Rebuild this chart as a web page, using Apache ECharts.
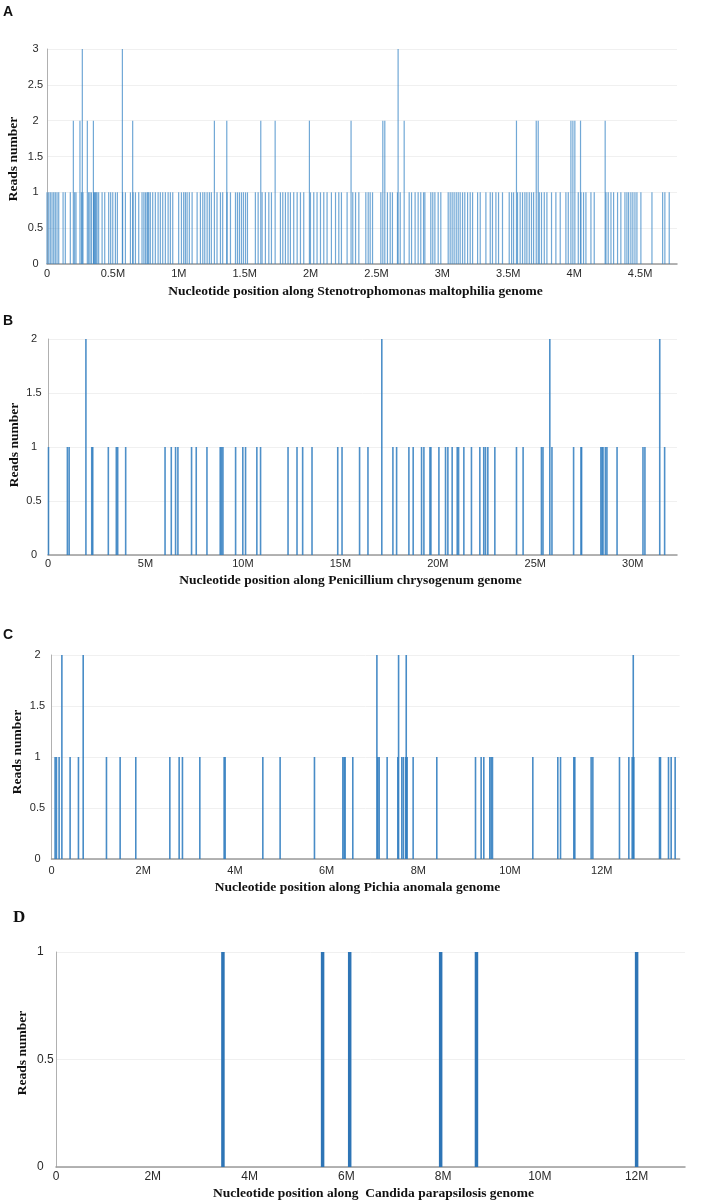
<!DOCTYPE html>
<html><head><meta charset="utf-8">
<script src="https://cdn.jsdelivr.net/npm/echarts/dist/echarts.min.js"></script>
<style>html,body{margin:0;padding:0;background:#fff}#c{width:724px;height:1202px}</style>
</head><body><div id="c"></div>
<script>
// Positions in Mb along each genome; reads per position
const posA1 = [0.010,0.023,0.035,0.048,0.061,0.073,0.086,0.099,0.132,0.149,0.187,0.220,0.230,0.271,0.283,0.326,0.336,0.347,0.364,0.370,0.377,0.383,0.390,0.402,0.428,0.448,0.478,0.493,0.509,0.529,0.544,0.584,0.605,0.643,0.663,0.681,0.706,0.731,0.745,0.757,0.769,0.775,0.782,0.794,0.812,0.832,0.853,0.870,0.888,0.908,0.929,0.946,0.964,1.009,1.030,1.047,1.060,1.073,1.090,1.111,1.149,1.174,1.192,1.207,1.225,1.242,1.257,1.300,1.326,1.343,1.376,1.402,1.440,1.455,1.470,1.485,1.500,1.516,1.531,1.591,1.612,1.642,1.667,1.693,1.713,1.781,1.799,1.819,1.839,1.857,1.882,1.908,1.933,1.958,2.009,2.034,2.059,2.085,2.110,2.135,2.168,2.199,2.224,2.244,2.287,2.330,2.351,2.376,2.429,2.447,2.462,2.480,2.543,2.593,2.614,2.631,2.669,2.690,2.758,2.776,2.803,2.826,2.846,2.867,2.877,2.922,2.937,2.953,2.978,2.998,3.054,3.069,3.084,3.099,3.115,3.130,3.145,3.163,3.180,3.201,3.221,3.239,3.277,3.297,3.340,3.373,3.390,3.416,3.436,3.466,3.517,3.535,3.550,3.580,3.600,3.618,3.636,3.651,3.669,3.686,3.702,3.745,3.762,3.783,3.803,3.838,3.871,3.904,3.947,3.965,4.041,4.061,4.081,4.099,4.137,4.162,4.251,4.268,4.289,4.309,4.339,4.364,4.395,4.410,4.423,4.440,4.455,4.471,4.486,4.516,4.600,4.681,4.698,4.731];
const posA2 = [0.200,0.250,0.306,0.352,0.650,1.270,1.364,1.622,1.731,1.991,2.307,2.548,2.563,2.710,3.562,3.712,3.727,3.975,3.990,4.005,4.048,4.235];
const posA3 = [0.258,0.562,2.654];

const posB1 = [0.07,1.04,1.13,2.29,2.34,3.14,3.55,3.62,4.03,6.05,6.37,6.59,6.71,7.41,7.65,8.20,8.88,8.95,9.02,9.67,10.04,10.18,10.76,10.95,12.36,12.82,13.11,13.59,14.91,15.13,16.03,16.46,17.74,17.93,18.56,18.78,19.21,19.33,19.64,19.69,20.10,20.44,20.56,20.78,21.04,21.11,21.38,21.77,22.20,22.40,22.49,22.61,22.97,24.08,24.42,25.36,25.44,25.90,27.01,27.39,27.42,28.41,28.47,28.52,28.64,28.72,29.24,30.57,30.67,31.68];
const posB2 = [1.90,17.08,25.70,31.34];

const posC1 = [0.098,0.127,0.185,0.425,0.607,1.218,1.516,1.857,2.600,2.803,2.875,3.254,3.784,3.806,4.628,5.005,5.754,6.373,6.401,6.423,6.590,7.136,7.165,7.339,7.572,7.659,7.695,7.746,7.775,7.906,8.422,9.266,9.389,9.447,9.578,9.607,9.636,10.516,11.061,11.120,11.410,11.432,11.788,11.825,12.406,12.610,12.683,12.719,13.279,13.300,13.475,13.533,13.620];
const posC2 = [0.207,0.672,7.077,7.550,7.717,12.668];

const posD1 = [3.45,5.51,6.07,7.95,8.69,12.0];

const xTitles = ['Nucleotide position along Stenotrophomonas maltophilia genome',
  'Nucleotide position along Penicillium chrysogenum genome',
  'Nucleotide position along Pichia anomala genome',
  'Nucleotide position along  Candida parapsilosis genome'];
const yTitle = 'Reads number';
const panelLetters = ['A','B','C','D'];

function pts(arr, v){ return arr.map(p => [p, v]); }

const chart = echarts.init(document.getElementById('c'), null, {renderer:'canvas'});
const sans = 'Liberation Sans, Arial, sans-serif';
const serif = 'Liberation Serif, Times New Roman, serif';

const grids = [
  {left:47, right:47, top:49, height:215},
  {left:48, right:47, top:339, height:216},
  {left:51.5, right:44.3, top:655, height:204},
  {left:56, right:39, top:952, height:215}
];
const xMax = [4.78, 32.27, 13.70, 13.0];
const xInt = [0.5, 5, 2, 2];
const yMax = [3, 2, 2, 1];
const xLblMargin = [4, 3, 6, 4];
const xLblSize = [11, 11, 11, 12];
const yLblMargin = [11.5, 14, 14, 19];
const yAlign = ['center','center','center','left'];

const xAxes = grids.map((g,i) => ({
  type:'value', gridIndex:i, min:0, max:xMax[i], interval:xInt[i],
  axisLine:{show:true, lineStyle:{color:'#9a9a9a', width:1.5}},
  axisTick:{show:false}, splitLine:{show:false},
  axisLabel:{show:true, showMaxLabel:false, color:'#2a2a2a', fontFamily:sans, fontSize:xLblSize[i], margin:xLblMargin[i],
    formatter: v => v === 0 ? '0' : (Math.round(v*10)/10) + 'M'}
}));
const yAxes = grids.map((g,i) => ({
  type:'value', gridIndex:i, min:0, max:yMax[i], interval:0.5,
  axisLine:{show:true, lineStyle:{color:'#b0b0b0', width:1}},
  axisTick:{show:false},
  splitLine:{show:true, lineStyle:{color:'#f0f0f0', width:1}},
  axisLabel:{color:'#2a2a2a', fontFamily:sans, fontSize:(i===3?12:11), margin:yLblMargin[i], align:yAlign[i]}
}));

function barSeries(i, data, width, color, opacity){
  return {type:'bar', xAxisIndex:i, yAxisIndex:i, data:data, barWidth:width, silent:true, animation:false,
    itemStyle:{color:color, opacity:opacity}};
}
const series = [
  barSeries(0, pts(posA1,1), 1.2, '#3583c4', 0.7),
  barSeries(0, pts(posA2,2), 1.2, '#3583c4', 0.7),
  barSeries(0, pts(posA3,3), 1.2, '#3583c4', 0.7),
  barSeries(1, pts(posB1,1), 1.6, '#2f7cbf', 0.85),
  barSeries(1, pts(posB2,2), 1.6, '#2f7cbf', 0.85),
  barSeries(2, pts(posC1,1), 1.6, '#2f7cbf', 0.88),
  barSeries(2, pts(posC2,2), 1.6, '#2f7cbf', 0.88),
  barSeries(3, pts(posD1,1), 3.5, '#2e75b6', 1)
];

const xTitlePos = [[355.5,292],[350.5,581],[357.5,888],[373.5,1194]];
const yTitlePos = [[13.5,159],[15,445],[18,752],[23,1053]];
const letterPos = [[3,12,14,sans],[3,321,14,sans],[3,635,14,sans],[13,918,17,serif]];
const graphics = [];
for (let i=0;i<4;i++){
  graphics.push({type:'text', x:xTitlePos[i][0], y:xTitlePos[i][1], silent:true,
    style:{text:xTitles[i], fill:'#111', font:'bold 13.5px '+serif, align:'center', verticalAlign:'middle'}});
  graphics.push({type:'text', x:yTitlePos[i][0], y:yTitlePos[i][1], rotation:Math.PI/2, silent:true,
    style:{text:yTitle, fill:'#111', font:'bold 13.5px '+serif, align:'center', verticalAlign:'middle'}});
  graphics.push({type:'text', x:letterPos[i][0], y:letterPos[i][1], silent:true,
    style:{text:panelLetters[i], fill:'#111', font:'bold '+letterPos[i][2]+'px '+letterPos[i][3], align:'left', verticalAlign:'middle'}});
}

chart.setOption({
  animation:false,
  backgroundColor:'#fff',
  grid: grids.map(g => Object.assign({containLabel:false}, g)),
  xAxis: xAxes, yAxis: yAxes, series: series, graphic: graphics
});
</script></body></html>
